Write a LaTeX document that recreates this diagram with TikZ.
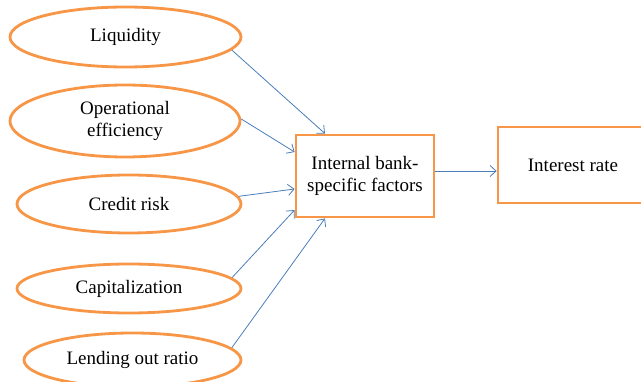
\documentclass[tikz,border=0pt]{standalone}
\usepackage{fontspec}
\setmainfont{Liberation Serif}
\usetikzlibrary{arrows.meta,shapes.geometric}
\definecolor{frameorange}{HTML}{F79646}
\definecolor{linkblue}{HTML}{4A7EBB}
\tikzset{factor/.style = {shape=ellipse,draw=frameorange,line width=2.8pt,inner sep=0pt,align=center,font=\fontsize{19}{22}\selectfont}}
\tikzset{block/.style = {shape=rectangle,draw=frameorange,line width=2.8pt,inner sep=0pt,align=center,font=\fontsize{19}{22}\selectfont}}
\tikzset{edge/.style = {draw=linkblue,line width=0.8pt,-{Straight Barb[length=6pt,width=11pt]}}}

\begin{document}
\begin{tikzpicture}[x=1pt,y=-1pt]
\useasboundingbox (0,0) rectangle (641,382);
\clip (0,0) rectangle (641,382);

\node[factor,minimum width=231pt,minimum height=60pt] (liq) at (125.5,37) {Liquidity};
\node[factor,minimum width=230pt,minimum height=72pt] (oper) at (125,121) {Operational\\efficiency};
\node[factor,minimum width=224pt,minimum height=58pt] (cred) at (129,204) {Credit risk};
\node[factor,minimum width=224pt,minimum height=49pt] (capi) at (129,288.5) {Capitalization};
\node[factor,minimum width=217pt,minimum height=54pt] (lend) at (132.5,360) {Lending out ratio};

\node[block,minimum width=138pt,minimum height=82pt] (ibsf) at (365,176) {Internal bank-\\specific factors};
\node[block,minimum width=150pt,minimum height=76pt] (rate) at (573,165) {Interest rate};

\draw[edge] (liq.-7.5) -- ([xshift=-40pt]ibsf.north);
\draw[edge] (oper.1) -- ([yshift=24pt]ibsf.west);
\draw[edge] (cred.4) -- ([yshift=-13pt]ibsf.west);
\draw[edge] (capi.6.4) -- ([yshift=-34pt]ibsf.west);
\draw[edge] (lend.7.5) -- ([xshift=-40pt]ibsf.south);

\draw[edge] ([yshift=5pt]ibsf.east) -- ([yshift=-6pt]rate.west);

\end{tikzpicture}
\end{document}
